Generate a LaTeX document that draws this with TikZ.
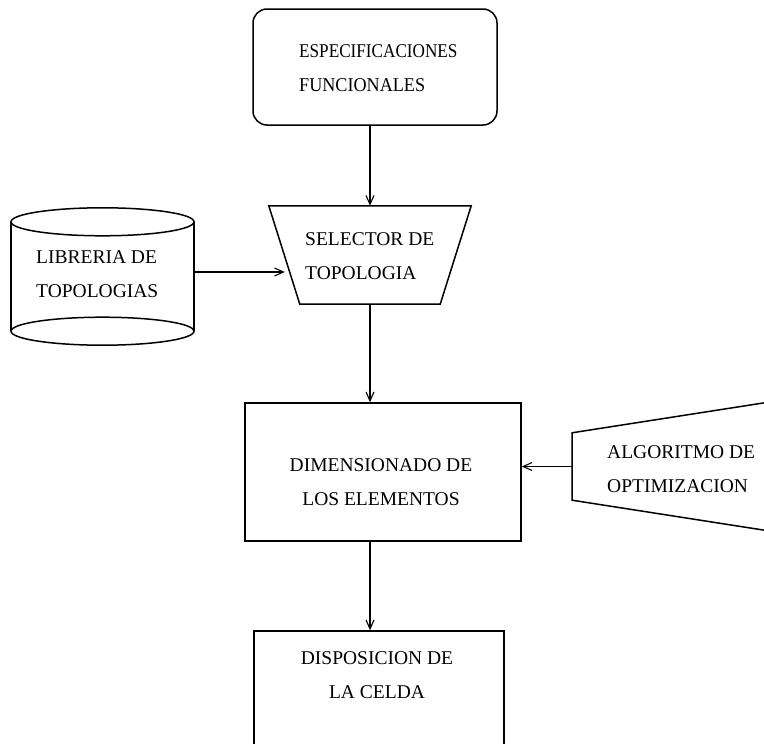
\documentclass[tikz,border=0pt]{standalone}
\usepackage{fontspec}
\setmainfont{Liberation Serif}
\usetikzlibrary{arrows.meta}
\begin{document}
\begin{tikzpicture}[x=1pt,y=-1pt,
  outline/.style={draw, line width=1.5pt},
  box/.style={outline, rectangle, inner sep=0pt},
  ghost/.style={rectangle, inner sep=0pt},
  txt/.style={font=\fontsize{19.5}{34}\selectfont, inner sep=0pt},
  arr/.style={line width=1.1pt, -{Straight Barb[length=9pt,width=8pt,line width=1.1pt]}}]
\useasboundingbox (0,0) rectangle (764,744);
\clip (0,0) rectangle (764,744);

% functional specifications (rounded box)
\node[box, rounded corners=14pt, minimum width=244pt, minimum height=116pt] (spec) at (375,67) {};
\node[txt, align=left, anchor=west] (spectxt) at (299,68)
  {\scalebox{0.88}[1]{ESPECIFICACIONES}\\\scalebox{0.93}[1]{FUNCIONALES}};

% topology selector (trapezoid, wide side up)
\node[ghost, minimum width=202pt, minimum height=98pt] (sel) at (370,255) {};
\draw[outline] (sel.north west) -- (sel.north east) -- ([xshift=-31pt]sel.south east)
  -- ([xshift=31pt]sel.south west) -- cycle;
\node[txt, align=left, anchor=west] (seltxt) at (305,256) {SELECTOR DE\\TOPOLOGIA};

% topology library (cylinder)
\node[ghost, minimum width=183pt, minimum height=137pt] (lib) at (102.5,276.5) {};
\draw[outline] ([yshift=-14pt]lib.north) ellipse [x radius=91.5pt, y radius=14pt];
\draw[outline] ([yshift=14pt]lib.south) ellipse [x radius=91.5pt, y radius=14pt];
\draw[outline] ([yshift=-14pt]lib.north west) -- ([yshift=14pt]lib.south west);
\draw[outline] ([yshift=-14pt]lib.north east) -- ([yshift=14pt]lib.south east);
\node[txt, align=left, anchor=west] (libtxt) at (36,274.5) {LIBRERIA DE\\TOPOLOGIAS};

% element sizing
\node[box, minimum width=276pt, minimum height=138pt] (dim) at (383,472) {};
\node[txt, align=center] (dimtxt) at (381,482) {DIMENSIONADO DE\\LOS ELEMENTOS};

% optimisation algorithm (trapezoid opening to the right)
\node[ghost, minimum width=260pt, minimum height=67pt, anchor=west] (opt) at (572,466.5) {};
\draw[outline] (opt.south west) -- (opt.north west) -- ([yshift=40.6pt]opt.north east)
  -- ([yshift=-40.6pt]opt.south east) -- cycle;
\node[txt, align=left, anchor=west] (opttxt) at (607,469.5) {ALGORITMO DE\\OPTIMIZACION};

% cell layout
\node[box, minimum width=250pt, minimum height=140pt] (disp) at (379,701) {};
\node[txt, align=center] (disptxt) at (377,675.5) {DISPOSICION DE\\LA CELDA};

% connectors
\draw[arr] (sel.north |- spec.south) -- (sel.north);
\draw[arr] ([yshift=4.5pt]lib.east) -- ([xshift=16pt,yshift=-17pt]sel.west);
\draw[arr] (sel.south) -- (sel.south |- dim.north);
\draw[arr] (opt.west) -- (dim.east |- opt.west);
\draw[arr] (sel.south |- dim.south) -- (sel.south |- disp.north);
\end{tikzpicture}
\end{document}
